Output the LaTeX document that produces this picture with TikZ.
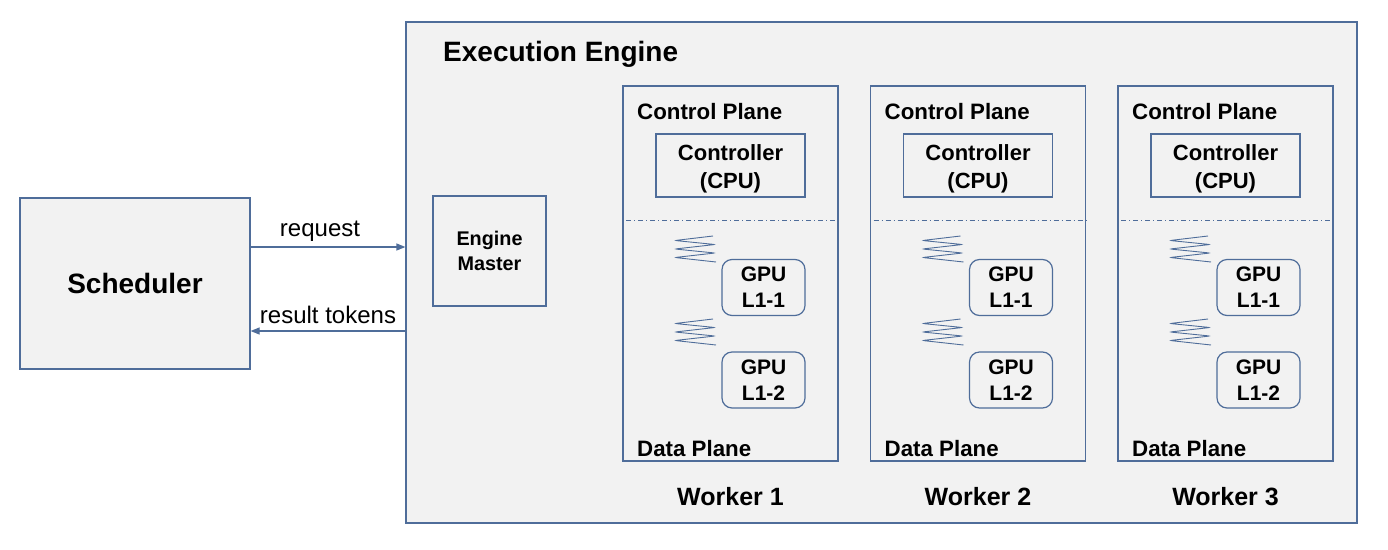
\documentclass[tikz,border=0pt]{standalone}
\usepackage{fontspec}
\setmainfont{Liberation Sans}
\usetikzlibrary{arrows.meta}
\definecolor{ln}{HTML}{4F6D9A}
\definecolor{bg}{HTML}{F2F2F2}
\tikzset{
  box/.style={draw=ln, fill=bg, line width=1.2pt},
  wbox/.style={draw=ln, fill=bg, line width=1.2pt},
  gpu/.style={draw=ln, fill=bg, line width=1.2pt, rounded corners=10pt, minimum width=83pt, minimum height=56pt, align=center, font=\fontsize{21}{26}\selectfont\bfseries, inner sep=0pt},
  ctrl/.style={draw=ln, fill=bg, line width=1.2pt, minimum width=149pt, minimum height=63pt, inner sep=0pt},
  ctxt/.style={align=center, font=\fontsize{22}{28}\selectfont\bfseries, inner sep=0pt},
  lbl/.style={anchor=west, font=\fontsize{22.3}{26}\selectfont\bfseries, inner sep=0pt},
  arr/.style={draw=ln, line width=1.2pt, -{Triangle[length=9pt,width=7pt]}},
  alab/.style={font=\fontsize{24}{28}\selectfont, inner sep=0pt},
  spring/.style={draw=ln, line width=0.9pt, rounded corners=2pt},
  sep/.style={draw=ln, line width=0.8pt, dash pattern=on 5pt off 3pt on 1pt off 3pt}
}
\begin{document}
\begin{tikzpicture}[x=1pt,y=-1pt]
\useasboundingbox (0,0) rectangle (1388,549);
\fill[white] (0,0) rectangle (1388,549);
% scheduler
\node[box, minimum width=230pt, minimum height=171pt, font=\fontsize{28}{32}\selectfont\bfseries] (sch) at (135,283.5) {Scheduler};
% engine
\node[box, minimum width=951pt, minimum height=501pt, inner sep=0pt] (eng) at (881.5,272.5) {};
\node[anchor=west, font=\fontsize{28}{32}\selectfont\bfseries, inner sep=0pt] (engt) at (443,54) {Execution Engine};
\node[box, minimum width=113pt, minimum height=110pt, align=center, font=\fontsize{19.8}{25}\selectfont\bfseries, inner sep=0pt] (em) at (489.5,251) {Engine\\Master};
% arrows
\coordinate (rq1) at (sch.east |- 0,247);
\coordinate (rq2) at (eng.west |- 0,247);
\coordinate (rs1) at (eng.west |- 0,331);
\coordinate (rs2) at (sch.east |- 0,331);
\draw[arr] (rq1) -- (rq2);
\draw[arr] (rs1) -- (rs2);
\node[alab] (rql) at (320,231) {request};
\node[alab] (rsl) at (328,315) {result tokens};
% workers
\foreach \i/\dx in {1/0, 2/247.5, 3/495} {
  \begin{scope}[xshift=\dx pt]
    \node[wbox, minimum width=215pt, minimum height=375pt, inner sep=0pt] (w\i) at (730.5,273.5) {};
    \node[lbl] (cp\i) at (637,112) {Control Plane};
    \node[ctrl] (c\i) at (730.5,165.5) {};
    \node[ctxt] (ct\i) at (730.5,168.5) {Controller\\(CPU)};
    \coordinate (s\i a) at (626,220);
    \coordinate (s\i b) at (840,220);
    \draw[sep] (s\i a) -- (s\i b);
    \node[gpu] (g\i a) at (763.5,287.5) {GPU\\L1-1};
    \node[gpu] (g\i b) at (763.5,380) {GPU\\L1-2};
    \draw[spring] (713,236) -- (675,240.5) -- (715,244.5) -- (675,249) -- (715,253) -- (675,257.5) -- (716,262);
    \draw[spring] (713,319) -- (675,323.5) -- (715,327.5) -- (675,332) -- (715,336) -- (675,340.5) -- (716,345);
    \node[lbl] (dp\i) at (637,449) {Data Plane};
    \node[font=\fontsize{25}{28}\selectfont\bfseries, inner sep=0pt] (wl\i) at (730.5,497) {Worker \i};
  \end{scope}
}
\end{tikzpicture}
\end{document}
